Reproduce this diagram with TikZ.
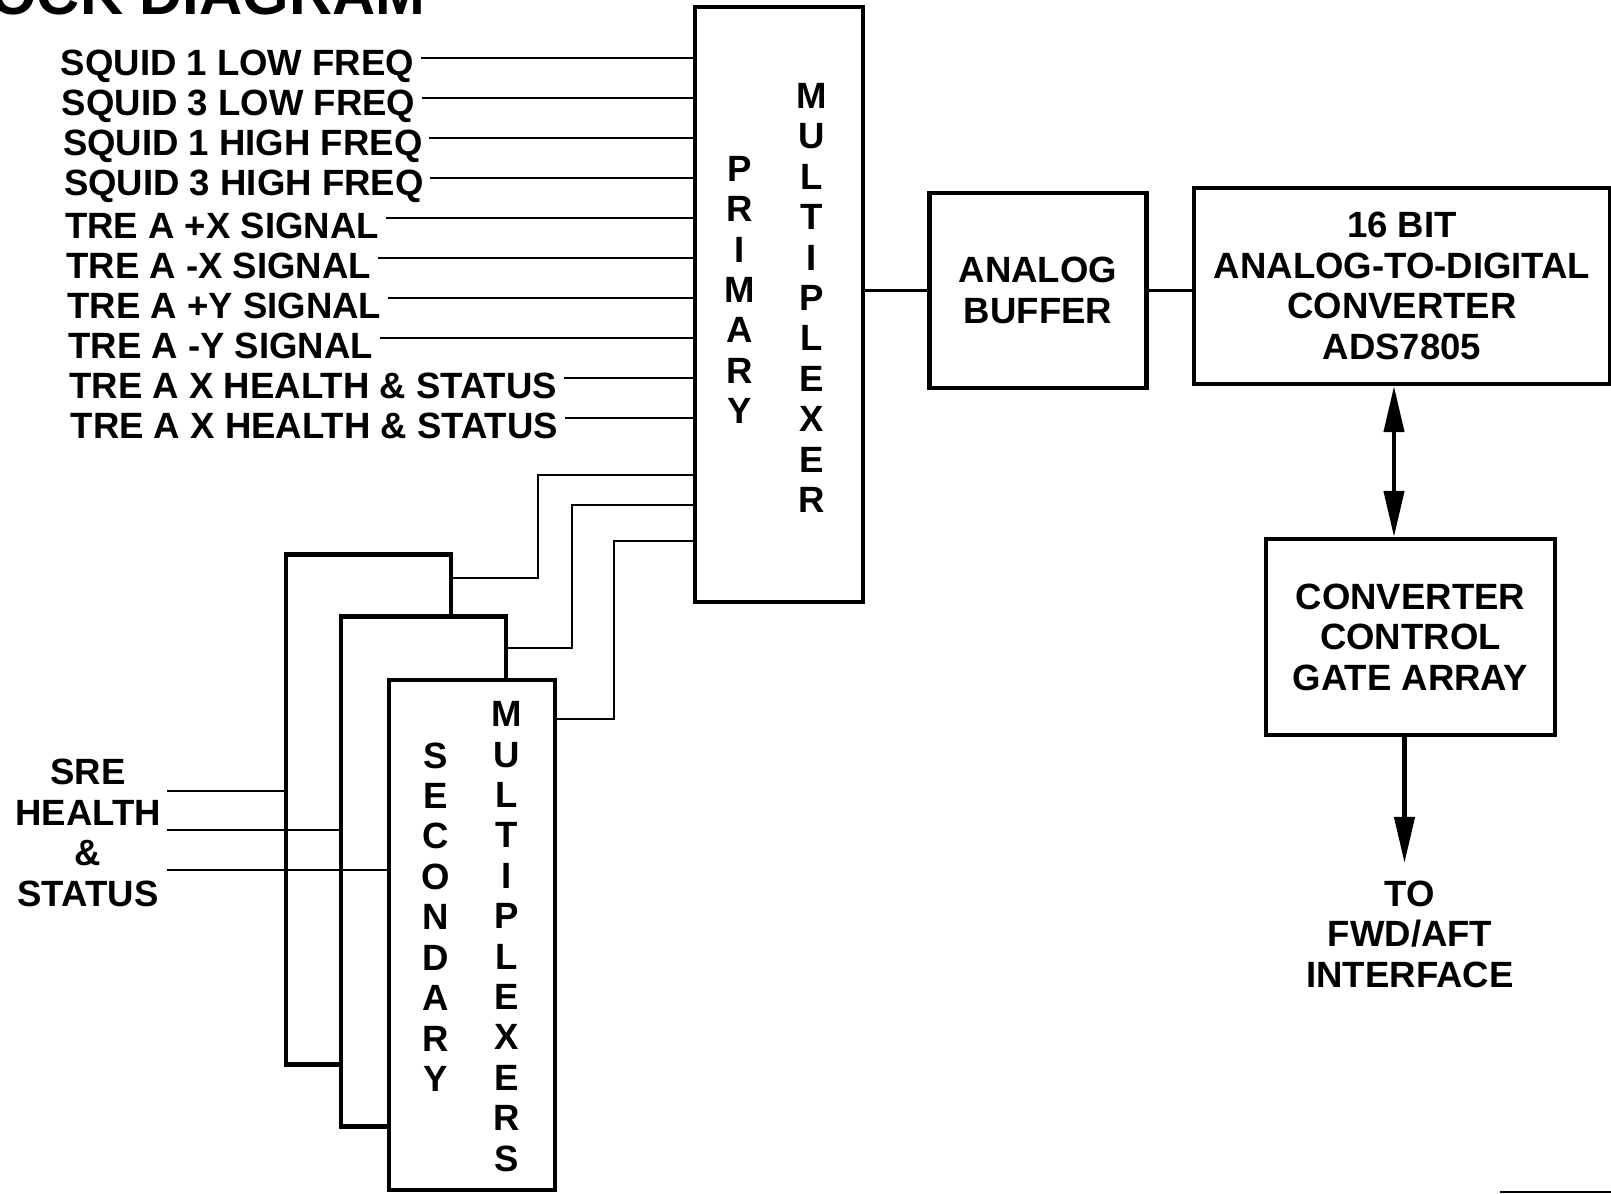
\documentclass[tikz,border=0pt]{standalone}
\usepackage{fontspec}
\setmainfont{Liberation Sans}
\usetikzlibrary{arrows.meta}
\tikzset{
  block/.style={
    draw,
    line width=1.2pt,
    fill=white,
    inner sep=0pt,
    align=center,
    font=\bfseries\fontsize{10.4}{11.5}\selectfont
  },
  wire/.style={
    line width=0.6pt
  },
  flow/.style={
    line width=1.2pt,
    -{Triangle[length=4.6mm, width=2mm]}
  },
  both flow/.style={
    line width=1.2pt,
    {Triangle[length=4.6mm, width=2mm]}-{Triangle[length=4.6mm, width=2mm]}
  },
  sig label/.style={
    font=\bfseries\fontsize{10.4}{11.5}\selectfont,
    inner xsep=0.6mm,
    inner ysep=0pt
  },
  stack text/.style={
    align=center,
    font=\bfseries\fontsize{10.4}{11.5}\selectfont,
    inner sep=0pt
  }
}

\begin{document}
\begin{tikzpicture}[x=0.1mm, y=-0.1mm]
    \path[use as bounding box, clip] (0,0) rectangle (1611,1194);

    % title, cut off by the top edge
    \node[anchor=base east, inner sep=0pt, font=\bfseries\fontsize{17}{20}\selectfont] (title) at (426,14) {BLOCK DIAGRAM};

    % primary multiplexer
    \node[block, minimum width=16.8mm, minimum height=59.5mm] (pmux) at (779,304.5) {};
    \node[stack text] (pmuxa) at (740,290) {P\\R\\I\\M\\A\\R\\Y};
    \node[stack text] (pmuxb) at (812,298) {M\\U\\L\\T\\I\\P\\L\\E\\X\\E\\R};

    % input signals
    \foreach \sig [count=\i] in {SQUID 1 LOW FREQ, SQUID 3 LOW FREQ, SQUID 1 HIGH FREQ, SQUID 3 HIGH FREQ,
        TRE A +X SIGNAL, TRE A -X SIGNAL, TRE A +Y SIGNAL, TRE A -Y SIGNAL,
        TRE A X HEALTH \& STATUS, TRE A X HEALTH \& STATUS} {
      \node[sig label, anchor=west] (in\i) at ({53+1.1*\i}, {26+40*\i}) {\sig};
      \draw[wire] ([yshift=0.8mm]in\i.east) -- ([yshift=0.8mm]in\i.east -| pmux.west);
    }

    % secondary multiplexers, back to front
    \node[block, minimum width=16.5mm, minimum height=51mm] (smux1) at (368.5,809.5) {};
    \node[block, minimum width=16.5mm, minimum height=51mm] (smux2) at (423.5,871.5) {};
    \node[block, minimum width=16.6mm, minimum height=51mm] (smux3) at (472,935) {};
    \node[stack text] (smuxa) at (436,917) {S\\E\\C\\O\\N\\D\\A\\R\\Y};
    \node[stack text] (smuxb) at (506.5,936.5) {M\\U\\L\\T\\I\\P\\L\\E\\X\\E\\R\\S};

    % SRE inputs
    \node[stack text, inner xsep=0.6mm] (sre) at (88,833) {SRE\\HEALTH\\\&\\STATUS};
    \draw[wire] (sre.east |- 0,791) -- (smux1.west |- 0,791);
    \draw[wire] (sre.east |- 0,830) -- (smux2.west |- 0,830);
    \draw[wire] (sre.east |- 0,870) -- (smux3.west |- 0,870);

    % secondary outputs into the primary
    \draw[wire] (smux1.east |- 0,578) -| (538,475) -- (pmux.west |- 0,475);
    \draw[wire] (smux2.east |- 0,648) -| (572,505) -- (pmux.west |- 0,505);
    \draw[wire] (smux3.east |- 0,719) -| (614,541) -- (pmux.west |- 0,541);

    % buffer and converter
    \node[block, minimum width=21.7mm, minimum height=19.5mm] (buf) at (1038,290.5) {ANALOG\\BUFFER};
    \node[block, minimum width=41.6mm, minimum height=19.6mm] (adc) at (1402,286) {16 BIT\\ANALOG-TO-DIGITAL\\CONVERTER\\ADS7805};
    \node[block, minimum width=28.9mm, minimum height=19.6mm] (ccga) at (1410.5,637) {CONVERTER\\CONTROL\\GATE ARRAY};
    \draw[wire] (buf.west -| pmux.east) -- (buf.west);
    \draw[wire] (buf.east) -- (buf.east -| adc.west);

    % converter <-> gate array
    \draw[both flow] ([xshift=-0.8mm]adc.south) -- ([xshift=-0.8mm]adc.south |- ccga.north);

    % output
    \node[stack text] (out) at (1410,934) {TO\\FWD/AFT\\INTERFACE};
    \draw[flow, shorten >=1.7mm] ([xshift=-0.6mm]ccga.south) -- ([xshift=-0.6mm]ccga.south |- out.north);

    % scrap of line at the bottom edge
    \draw[line width=0.8pt] (1500,1192) -- (1611,1192);

\end{tikzpicture}
\end{document}
